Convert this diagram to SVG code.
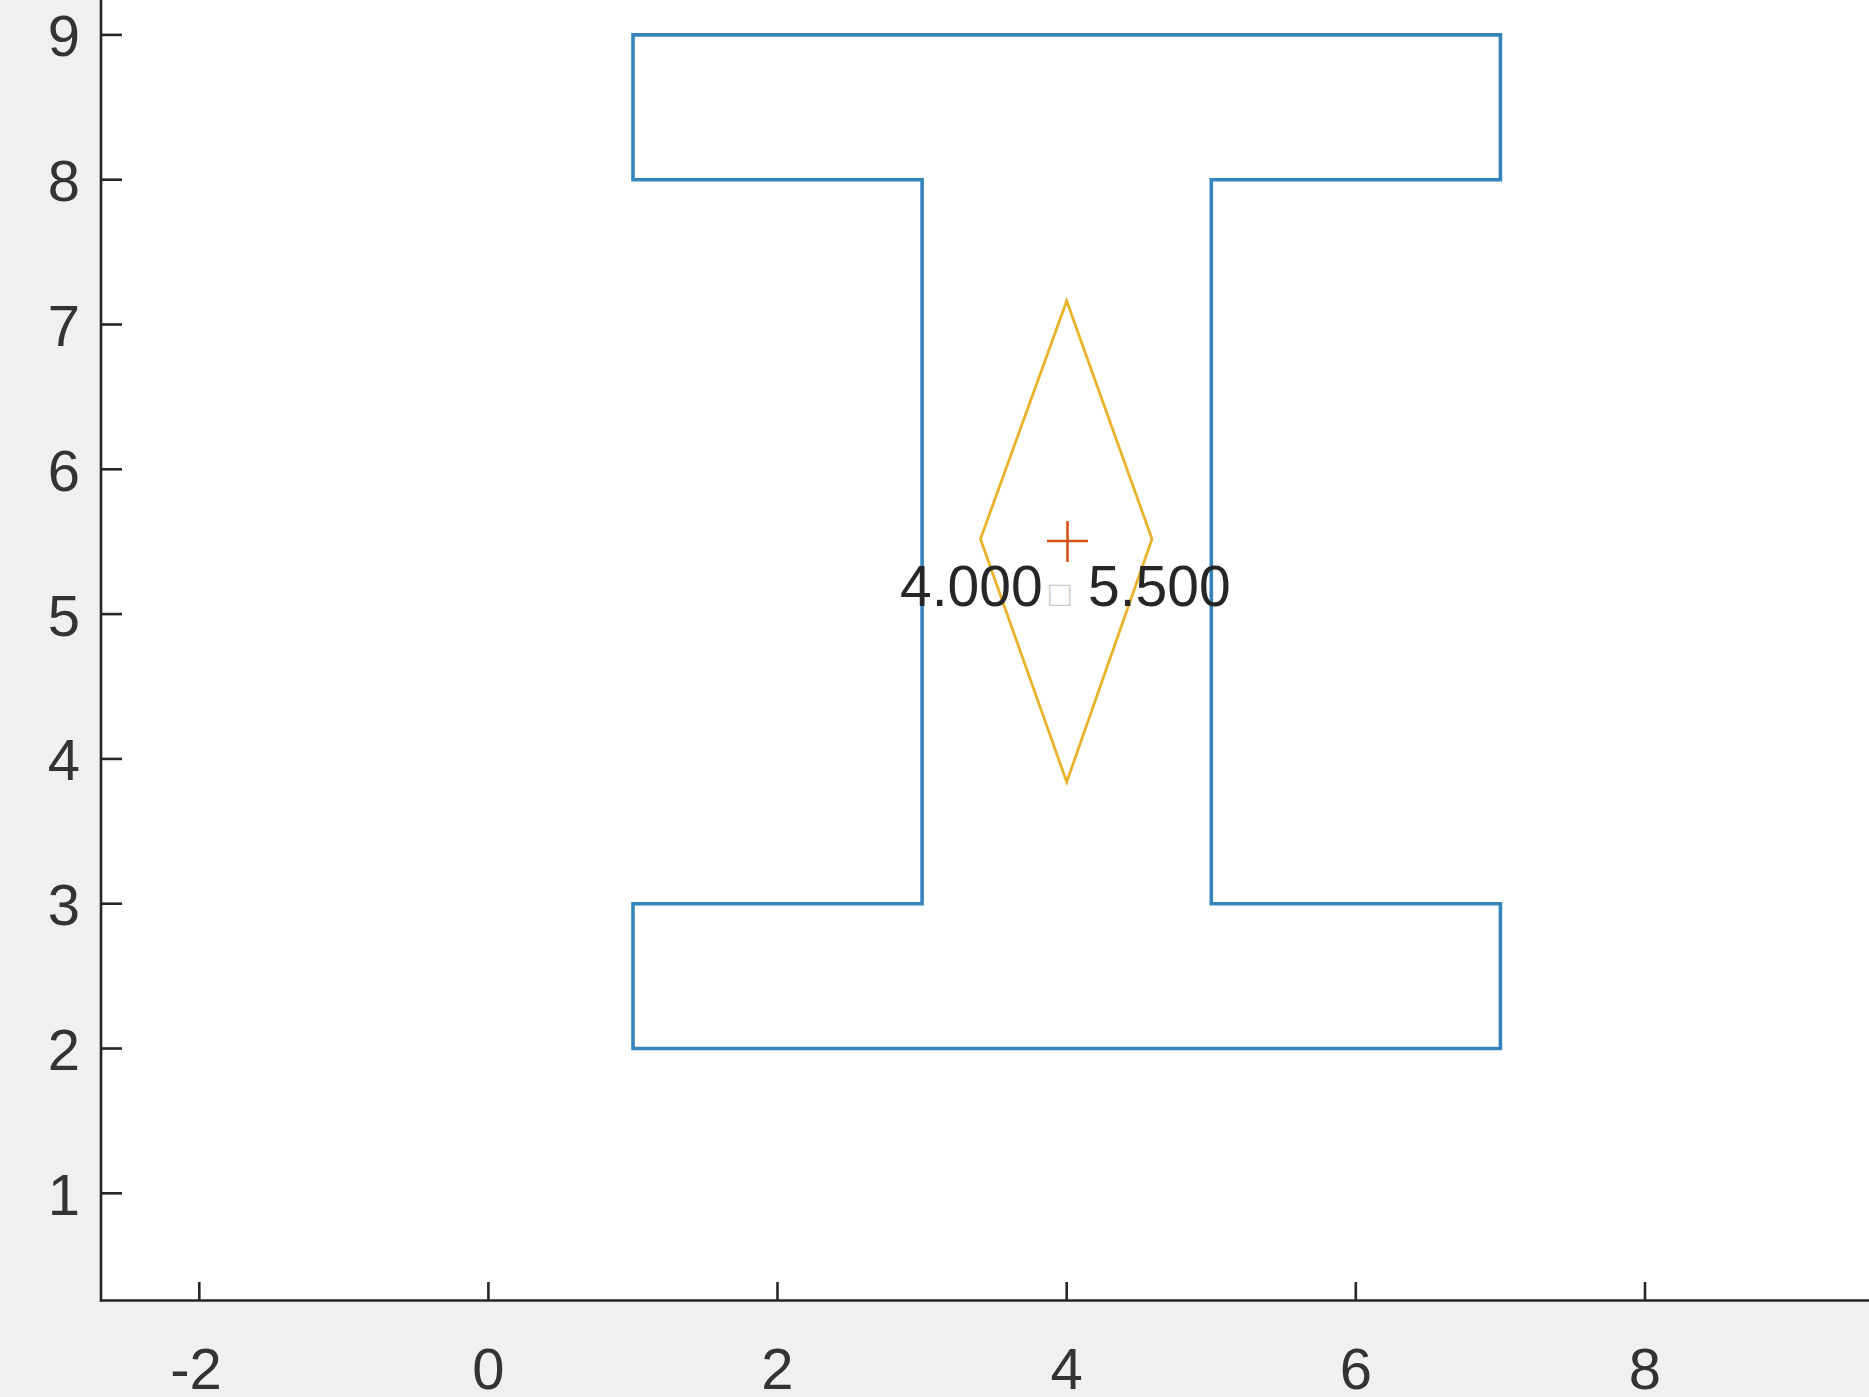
<svg xmlns="http://www.w3.org/2000/svg" width="1869" height="1397" viewBox="0 0 1869 1397">
<style>
.axis{stroke:#262626;stroke-width:2.6;fill:none}
.tick{stroke:#262626;stroke-width:2.6}
.lbl{font-family:"Liberation Sans",Arial,sans-serif;font-size:58px;fill:#333333}
.ylbl{text-anchor:end}
.xlbl{text-anchor:middle}
.beam{fill:none;stroke:#3584bc;stroke-width:3.6;stroke-linejoin:miter}
.dia{fill:none;stroke:#e9b42c;stroke-width:2.8}
.cen{stroke:#d95319;stroke-width:2.6}
.ann{font-family:"Liberation Sans",Arial,sans-serif;font-size:57px;fill:#262626}
</style>
<rect x="0" y="0" width="1869" height="1397" fill="#f0f0f0"/>
<rect x="101" y="0" width="1768" height="1300.5" fill="#ffffff"/>
<g id="axes">
<line class="axis" x1="101" y1="0" x2="101" y2="1301.5"/>
<line class="axis" x1="99.8" y1="1300.5" x2="1869" y2="1300.5"/>
<g id="yticks">
<line class="tick" x1="101" y1="34.9" x2="122" y2="34.9"/>
<line class="tick" x1="101" y1="179.7" x2="122" y2="179.7"/>
<line class="tick" x1="101" y1="324.5" x2="122" y2="324.5"/>
<line class="tick" x1="101" y1="469.3" x2="122" y2="469.3"/>
<line class="tick" x1="101" y1="614.1" x2="122" y2="614.1"/>
<line class="tick" x1="101" y1="758.9" x2="122" y2="758.9"/>
<line class="tick" x1="101" y1="903.7" x2="122" y2="903.7"/>
<line class="tick" x1="101" y1="1048.5" x2="122" y2="1048.5"/>
<line class="tick" x1="101" y1="1193.3" x2="122" y2="1193.3"/>
</g>
<g id="xticks">
<line class="tick" x1="199.3" y1="1300.5" x2="199.3" y2="1282"/>
<line class="tick" x1="488.4" y1="1300.5" x2="488.4" y2="1282"/>
<line class="tick" x1="777.5" y1="1300.5" x2="777.5" y2="1282"/>
<line class="tick" x1="1066.7" y1="1300.5" x2="1066.7" y2="1282"/>
<line class="tick" x1="1355.8" y1="1300.5" x2="1355.8" y2="1282"/>
<line class="tick" x1="1645" y1="1300.5" x2="1645" y2="1282"/>
</g>
<g id="ylabels">
<text class="lbl ylbl" x="80" y="56">9</text>
<text class="lbl ylbl" x="80" y="201">8</text>
<text class="lbl ylbl" x="80" y="346">7</text>
<text class="lbl ylbl" x="80" y="491">6</text>
<text class="lbl ylbl" x="80" y="636">5</text>
<text class="lbl ylbl" x="80" y="780">4</text>
<text class="lbl ylbl" x="80" y="925">3</text>
<text class="lbl ylbl" x="80" y="1070">2</text>
<text class="lbl ylbl" x="80" y="1215">1</text>
</g>
<g id="xlabels">
<text class="lbl xlbl" x="196" y="1389">-2</text>
<text class="lbl xlbl" x="488.4" y="1389">0</text>
<text class="lbl xlbl" x="777.5" y="1389">2</text>
<text class="lbl xlbl" x="1066.7" y="1389">4</text>
<text class="lbl xlbl" x="1355.8" y="1389">6</text>
<text class="lbl xlbl" x="1645" y="1389">8</text>
</g>
</g>
<g id="ibeam">
<polygon class="beam" points="633,34.9 1500.4,34.9 1500.4,179.7 1211.3,179.7 1211.3,903.7 1500.4,903.7 1500.4,1048.5 633,1048.5 633,903.7 922.1,903.7 922.1,179.7 633,179.7"/>
</g>
<g id="diamond">
<polygon class="dia" points="1066.7,301 1152,539 1066.7,782 980.5,539"/>
</g>
<g id="centroid">
<line class="cen" x1="1047" y1="541" x2="1088" y2="541"/>
<line class="cen" x1="1067.5" y1="521" x2="1067.5" y2="562"/>
</g>
<g id="label">
<text class="ann" y="606"><tspan x="900">4.000</tspan><tspan x="1049" font-size="36" fill="#c8c8c8">□</tspan><tspan x="1088">5.500</tspan></text>
</g>
</svg>
